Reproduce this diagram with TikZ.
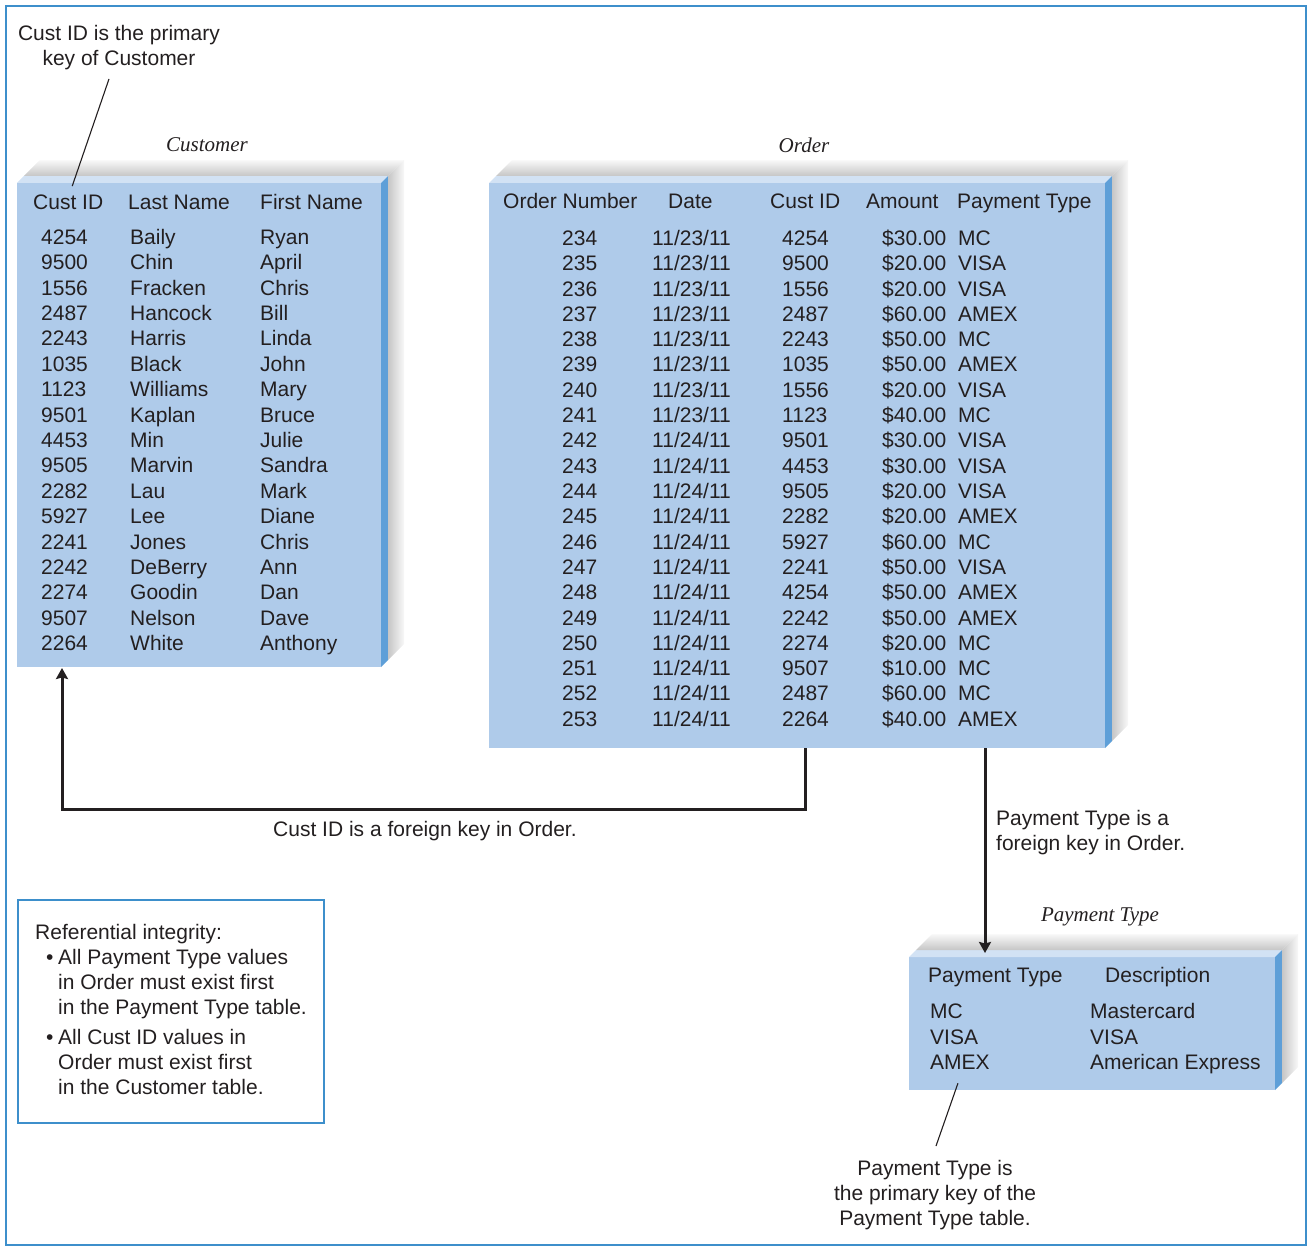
\documentclass[tikz,border=0pt]{standalone}
\usepackage{fontspec}
\setmainfont{Liberation Sans}
\newfontfamily\titlefont{Liberation Serif}
\usepackage{xcolor}
\usetikzlibrary{arrows.meta, positioning}
\definecolor{tablefront}{HTML}{AFCBEA}
\definecolor{tabletop}{HTML}{D2E2F4}
\definecolor{tableside}{HTML}{5E9FD8}
\definecolor{frameblue}{HTML}{3D8FCB}
\definecolor{inkgrey}{HTML}{231F20}
\tikzset{
  tbl/.style={fill=tablefront, inner sep=0pt, outer sep=0pt, anchor=north west},
  cell/.style={anchor=base west, inner sep=0pt, text=inkgrey, font=\fontsize{21}{25.4}\selectfont},
  tbltitle/.style={anchor=base, inner sep=0pt, text=inkgrey, font=\titlefont\itshape\fontsize{21}{25}\selectfont},
  note/.style={inner sep=0pt, text=inkgrey, font=\fontsize{21}{25}\selectfont},
  fkarrow/.style={draw=inkgrey, line width=3pt, -{Stealth[length=11pt,width=12pt,inset=1.5pt]}},
  leader/.style={draw=inkgrey, line width=1.1pt},
}
% top, side and shadow of a table block
\newcommand{\tableedges}[1]{%
  \fill[tabletop] (#1.north west) -- ++(7,7) -- ([shift={(7,7)}]#1.north east) -- (#1.north east) -- cycle;
  \fill[tableside] (#1.north east) -- ++(7,7) -- ([shift={(7,7)}]#1.south east) -- (#1.south east) -- cycle;
  \shade[bottom color=gray!45, top color=gray!5] ([shift={(7,7)}]#1.north west) -- ++(16,16) -- ([shift={(23,23)}]#1.north east) -- ([shift={(7,7)}]#1.north east) -- cycle;
  \shade[left color=gray!45, right color=gray!5] ([shift={(7,7)}]#1.north east) -- ([shift={(23,23)}]#1.north east) -- ([shift={(23,23)}]#1.south east) -- ([shift={(7,7)}]#1.south east) -- cycle;
}

\begin{document}
\begin{tikzpicture}[x=1pt, y=1pt]
  \useasboundingbox (0,0) rectangle (1310,-1246);
  \draw[frameblue, line width=1.5pt] (6,-6) rectangle (1306,-1245);

  % tables
  \node[tbl, minimum width=364pt, minimum height=484pt] (cust) at (17,-183) {};
  \node[tbl, minimum width=616pt, minimum height=565pt] (ord) at (489,-183) {};
  \node[tbl, minimum width=366pt, minimum height=133pt] (ptype) at (909,-957) {};
  \tableedges{cust}
  \tableedges{ord}
  \tableedges{ptype}
  \node[tbltitle] (custtitle) at (207,-152) {Customer};
  \node[tbltitle] (ordtitle) at (804,-153) {Order};
  \node[tbltitle] (pttitle) at (1100,-921) {Payment Type};

  % Customer
  \node[cell] (cuhid) at (33,-209.5) {Cust ID}; \node[cell] (cuhln) at (128,-209.5) {Last Name}; \node[cell] (cuhfn) at (260,-209.5) {First Name};
  \node[cell] (cu1id) at (41,-244.5) {4254}; \node[cell] (cu1ln) at (130,-244.5) {Baily};    \node[cell] (cu1fn) at (260,-244.5) {Ryan};
  \node[cell] (cu2id) at (41,-269.9) {9500}; \node[cell] (cu2ln) at (130,-269.9) {Chin};     \node[cell] (cu2fn) at (260,-269.9) {April};
  \node[cell] (cu3id) at (41,-295.3) {1556}; \node[cell] (cu3ln) at (130,-295.3) {Fracken};  \node[cell] (cu3fn) at (260,-295.3) {Chris};
  \node[cell] (cu4id) at (41,-320.6) {2487}; \node[cell] (cu4ln) at (130,-320.6) {Hancock};  \node[cell] (cu4fn) at (260,-320.6) {Bill};
  \node[cell] (cu5id) at (41,-346.0) {2243}; \node[cell] (cu5ln) at (130,-346.0) {Harris};   \node[cell] (cu5fn) at (260,-346.0) {Linda};
  \node[cell] (cu6id) at (41,-371.4) {1035}; \node[cell] (cu6ln) at (130,-371.4) {Black};    \node[cell] (cu6fn) at (260,-371.4) {John};
  \node[cell] (cu7id) at (41,-396.8) {1123}; \node[cell] (cu7ln) at (130,-396.8) {Williams}; \node[cell] (cu7fn) at (260,-396.8) {Mary};
  \node[cell] (cu8id) at (41,-422.1) {9501}; \node[cell] (cu8ln) at (130,-422.1) {Kaplan};   \node[cell] (cu8fn) at (260,-422.1) {Bruce};
  \node[cell] (cu9id) at (41,-447.5) {4453}; \node[cell] (cu9ln) at (130,-447.5) {Min};      \node[cell] (cu9fn) at (260,-447.5) {Julie};
  \node[cell] (cu10id) at (41,-472.9) {9505}; \node[cell] (cu10ln) at (130,-472.9) {Marvin};  \node[cell] (cu10fn) at (260,-472.9) {Sandra};
  \node[cell] (cu11id) at (41,-498.3) {2282}; \node[cell] (cu11ln) at (130,-498.3) {Lau};     \node[cell] (cu11fn) at (260,-498.3) {Mark};
  \node[cell] (cu12id) at (41,-523.6) {5927}; \node[cell] (cu12ln) at (130,-523.6) {Lee};     \node[cell] (cu12fn) at (260,-523.6) {Diane};
  \node[cell] (cu13id) at (41,-549.0) {2241}; \node[cell] (cu13ln) at (130,-549.0) {Jones};   \node[cell] (cu13fn) at (260,-549.0) {Chris};
  \node[cell] (cu14id) at (41,-574.4) {2242}; \node[cell] (cu14ln) at (130,-574.4) {DeBerry}; \node[cell] (cu14fn) at (260,-574.4) {Ann};
  \node[cell] (cu15id) at (41,-599.8) {2274}; \node[cell] (cu15ln) at (130,-599.8) {Goodin};  \node[cell] (cu15fn) at (260,-599.8) {Dan};
  \node[cell] (cu16id) at (41,-625.1) {9507}; \node[cell] (cu16ln) at (130,-625.1) {Nelson};  \node[cell] (cu16fn) at (260,-625.1) {Dave};
  \node[cell] (cu17id) at (41,-650.5) {2264}; \node[cell] (cu17ln) at (130,-650.5) {White};   \node[cell] (cu17fn) at (260,-650.5) {Anthony};

  % Order
  \node[cell] (orhno) at (503,-208.5) {Order Number}; \node[cell] (orhdt) at (668,-208.5) {Date}; \node[cell] (orhid) at (770,-208.5) {Cust ID}; \node[cell] (orham) at (866,-208.5) {Amount}; \node[cell] (orhpt) at (957,-208.5) {Payment Type};
  \node[cell] (or1no) at (562,-245.5) {234}; \node[cell] (or1dt) at (652,-245.5) {11/23/11}; \node[cell] (or1id) at (782,-245.5) {4254}; \node[cell] (or1am) at (882,-245.5) {\$30.00}; \node[cell] (or1pt) at (958,-245.5) {MC};
  \node[cell] (or2no) at (562,-270.8) {235}; \node[cell] (or2dt) at (652,-270.8) {11/23/11}; \node[cell] (or2id) at (782,-270.8) {9500}; \node[cell] (or2am) at (882,-270.8) {\$20.00}; \node[cell] (or2pt) at (958,-270.8) {VISA};
  \node[cell] (or3no) at (562,-296.1) {236}; \node[cell] (or3dt) at (652,-296.1) {11/23/11}; \node[cell] (or3id) at (782,-296.1) {1556}; \node[cell] (or3am) at (882,-296.1) {\$20.00}; \node[cell] (or3pt) at (958,-296.1) {VISA};
  \node[cell] (or4no) at (562,-321.4) {237}; \node[cell] (or4dt) at (652,-321.4) {11/23/11}; \node[cell] (or4id) at (782,-321.4) {2487}; \node[cell] (or4am) at (882,-321.4) {\$60.00}; \node[cell] (or4pt) at (958,-321.4) {AMEX};
  \node[cell] (or5no) at (562,-346.7) {238}; \node[cell] (or5dt) at (652,-346.7) {11/23/11}; \node[cell] (or5id) at (782,-346.7) {2243}; \node[cell] (or5am) at (882,-346.7) {\$50.00}; \node[cell] (or5pt) at (958,-346.7) {MC};
  \node[cell] (or6no) at (562,-372.0) {239}; \node[cell] (or6dt) at (652,-372.0) {11/23/11}; \node[cell] (or6id) at (782,-372.0) {1035}; \node[cell] (or6am) at (882,-372.0) {\$50.00}; \node[cell] (or6pt) at (958,-372.0) {AMEX};
  \node[cell] (or7no) at (562,-397.3) {240}; \node[cell] (or7dt) at (652,-397.3) {11/23/11}; \node[cell] (or7id) at (782,-397.3) {1556}; \node[cell] (or7am) at (882,-397.3) {\$20.00}; \node[cell] (or7pt) at (958,-397.3) {VISA};
  \node[cell] (or8no) at (562,-422.6) {241}; \node[cell] (or8dt) at (652,-422.6) {11/23/11}; \node[cell] (or8id) at (782,-422.6) {1123}; \node[cell] (or8am) at (882,-422.6) {\$40.00}; \node[cell] (or8pt) at (958,-422.6) {MC};
  \node[cell] (or9no) at (562,-447.9) {242}; \node[cell] (or9dt) at (652,-447.9) {11/24/11}; \node[cell] (or9id) at (782,-447.9) {9501}; \node[cell] (or9am) at (882,-447.9) {\$30.00}; \node[cell] (or9pt) at (958,-447.9) {VISA};
  \node[cell] (or10no) at (562,-473.2) {243}; \node[cell] (or10dt) at (652,-473.2) {11/24/11}; \node[cell] (or10id) at (782,-473.2) {4453}; \node[cell] (or10am) at (882,-473.2) {\$30.00}; \node[cell] (or10pt) at (958,-473.2) {VISA};
  \node[cell] (or11no) at (562,-498.5) {244}; \node[cell] (or11dt) at (652,-498.5) {11/24/11}; \node[cell] (or11id) at (782,-498.5) {9505}; \node[cell] (or11am) at (882,-498.5) {\$20.00}; \node[cell] (or11pt) at (958,-498.5) {VISA};
  \node[cell] (or12no) at (562,-523.8) {245}; \node[cell] (or12dt) at (652,-523.8) {11/24/11}; \node[cell] (or12id) at (782,-523.8) {2282}; \node[cell] (or12am) at (882,-523.8) {\$20.00}; \node[cell] (or12pt) at (958,-523.8) {AMEX};
  \node[cell] (or13no) at (562,-549.1) {246}; \node[cell] (or13dt) at (652,-549.1) {11/24/11}; \node[cell] (or13id) at (782,-549.1) {5927}; \node[cell] (or13am) at (882,-549.1) {\$60.00}; \node[cell] (or13pt) at (958,-549.1) {MC};
  \node[cell] (or14no) at (562,-574.4) {247}; \node[cell] (or14dt) at (652,-574.4) {11/24/11}; \node[cell] (or14id) at (782,-574.4) {2241}; \node[cell] (or14am) at (882,-574.4) {\$50.00}; \node[cell] (or14pt) at (958,-574.4) {VISA};
  \node[cell] (or15no) at (562,-599.7) {248}; \node[cell] (or15dt) at (652,-599.7) {11/24/11}; \node[cell] (or15id) at (782,-599.7) {4254}; \node[cell] (or15am) at (882,-599.7) {\$50.00}; \node[cell] (or15pt) at (958,-599.7) {AMEX};
  \node[cell] (or16no) at (562,-625.0) {249}; \node[cell] (or16dt) at (652,-625.0) {11/24/11}; \node[cell] (or16id) at (782,-625.0) {2242}; \node[cell] (or16am) at (882,-625.0) {\$50.00}; \node[cell] (or16pt) at (958,-625.0) {AMEX};
  \node[cell] (or17no) at (562,-650.3) {250}; \node[cell] (or17dt) at (652,-650.3) {11/24/11}; \node[cell] (or17id) at (782,-650.3) {2274}; \node[cell] (or17am) at (882,-650.3) {\$20.00}; \node[cell] (or17pt) at (958,-650.3) {MC};
  \node[cell] (or18no) at (562,-675.6) {251}; \node[cell] (or18dt) at (652,-675.6) {11/24/11}; \node[cell] (or18id) at (782,-675.6) {9507}; \node[cell] (or18am) at (882,-675.6) {\$10.00}; \node[cell] (or18pt) at (958,-675.6) {MC};
  \node[cell] (or19no) at (562,-700.9) {252}; \node[cell] (or19dt) at (652,-700.9) {11/24/11}; \node[cell] (or19id) at (782,-700.9) {2487}; \node[cell] (or19am) at (882,-700.9) {\$60.00}; \node[cell] (or19pt) at (958,-700.9) {MC};
  \node[cell] (or20no) at (562,-726.2) {253}; \node[cell] (or20dt) at (652,-726.2) {11/24/11}; \node[cell] (or20id) at (782,-726.2) {2264}; \node[cell] (or20am) at (882,-726.2) {\$40.00}; \node[cell] (or20pt) at (958,-726.2) {AMEX};

  % Payment Type
  \node[cell] (pthpt) at (928,-982.5) {Payment Type}; \node[cell] (pthds) at (1105,-982.5) {Description};
  \node[cell] (pt1pt) at (930,-1018.5) {MC};   \node[cell] (pt1ds) at (1090,-1018.5) {Mastercard};
  \node[cell] (pt2pt) at (930,-1044.0) {VISA}; \node[cell] (pt2ds) at (1090,-1044.0) {VISA};
  \node[cell] (pt3pt) at (930,-1069.5) {AMEX}; \node[cell] (pt3ds) at (1090,-1069.5) {American Express};

  % notes
  \node[note, align=center, anchor=north] (pknote) at (119,-25) {Cust ID is the primary\\key of Customer};
  \node[note, anchor=base west] (fknote) at (273,-836.5) {Cust ID is a foreign key in Order.};
  \node[note, align=left, anchor=north west] (ptfknote) at (996,-810) {Payment Type is a\\foreign key in Order.};
  \node[note, align=center, anchor=north] (ptpknote) at (935,-1160) {Payment Type is\\the primary key of the\\Payment Type table.};

  % referential integrity
  \node[draw=frameblue, line width=1.5pt, inner sep=0pt, anchor=north west, minimum width=306pt, minimum height=223pt] (ri) at (17,-899) {};
  \node[note, anchor=base west] (rihead) at (35,-939.5) {Referential integrity:};
  \node[note, anchor=base west] (ribul1) at (46,-964.5) {\textbullet};
  \node[note, align=left, anchor=north west] (ritxt1) at (58,-949.2) {All Payment Type values\\in Order must exist first\\in the Payment Type table.};
  \node[note, anchor=base west] (ribul2) at (46,-1044.5) {\textbullet};
  \node[note, align=left, anchor=north west] (ritxt2) at (58,-1029.2) {All Cust ID values in\\Order must exist first\\in the Customer table.};

  % connectors
  \draw[leader] ([xshift=-10pt,yshift=-9pt]pknote.south) -- ([xshift=4pt,yshift=8.5pt]cuhid.north);
  \draw[leader] ([xshift=-2pt,yshift=-13.5pt]pt3pt.south) -- ([xshift=1pt,yshift=14pt]ptpknote.north);
  \draw[fkarrow] ([xshift=8pt]ord.south) -- ++(0,-61) -| ([xshift=45pt,yshift=-1pt]cust.south west);
  \draw[fkarrow] ([xshift=496pt]ord.south west) -- ([xshift=76pt,yshift=4pt]ptype.north west);
\end{tikzpicture}
\end{document}
